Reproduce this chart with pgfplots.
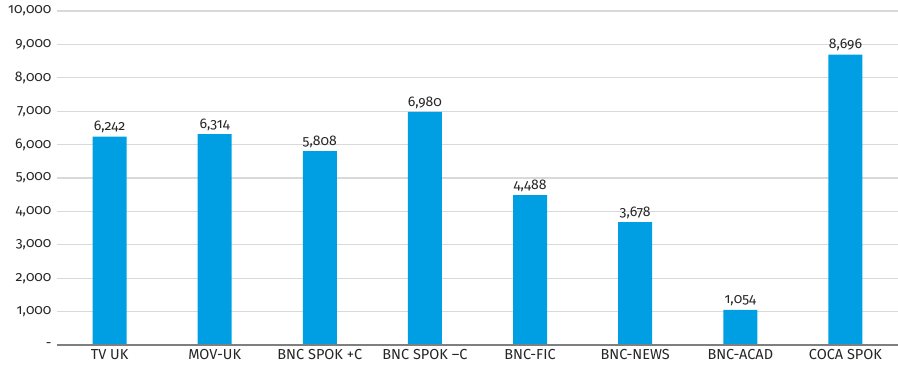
\documentclass[border=0pt]{standalone}
\usepackage{pgfplots}
\pgfplotsset{compat=1.18}
\usepackage{fontspec}
\setmainfont{Fira Sans}[Numbers=OldStyle]
\definecolor{barblue}{HTML}{009FE3}
\definecolor{gridgray}{HTML}{D9D9D9}
\definecolor{axgray}{HTML}{7F7F7F}
\definecolor{txt}{HTML}{262626}
\begin{document}
\begin{tikzpicture}
\begin{axis}[
  scale only axis,
  width=841pt, height=334pt,
  xmin=-0.5, xmax=7.5,
  ymin=0, ymax=10000,
  scaled y ticks=false,
  axis line style={draw=none},
  ytick={0,1000,...,10000},
  yticklabels={-,{1,000},{2,000},{3,000},{4,000},{5,000},{6,000},{7,000},{8,000},{9,000},{10,000}},
  xtick=data,
  xticklabels={TV UK,MOV-UK,BNC SPOK +C,BNC SPOK --C,BNC-FIC,BNC-NEWS,BNC-ACAD,COCA SPOK},
  tick style={draw=none},
  ymajorgrids,
  grid style={gridgray, line width=1.3pt},
  yticklabel style={font=\fontsize{14}{16}\selectfont, text=txt, xshift=-2pt},
  xticklabel style={font=\fontsize{14.5}{16}\selectfont, text=txt, yshift=-1pt},
  /pgf/number format/assume math mode=true,
  /pgf/number format/1000 sep={,},
  nodes near coords,
  nodes near coords style={font=\fontsize{14}{16}\selectfont, text=txt, /pgf/number format/fixed, /pgf/number format/precision=0},
  clip=false,
]
\addplot[ybar, bar width=34pt, fill=barblue, draw=none] coordinates {
(0,6242) (1,6314) (2,5808) (3,6980) (4,4488) (5,3678) (6,1054) (7,8696)
};
\draw[axgray, line width=1.3pt] (rel axis cs:0,0) -- (rel axis cs:1,0);
\coordinate (ll) at (rel axis cs:0,0);
\coordinate (ur) at (rel axis cs:1,1);
\end{axis}
\pgfresetboundingbox
\path[use as bounding box] ([shift={(-57pt,-26pt)}]ll) rectangle ([shift={(0pt,11pt)}]ur);
\end{tikzpicture}
\end{document}
